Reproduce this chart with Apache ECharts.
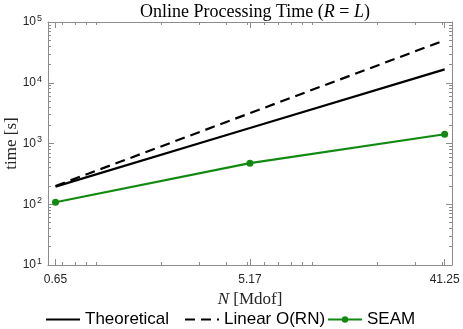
<!DOCTYPE html>
<html>
<head>
<meta charset="utf-8">
<script src="https://cdn.jsdelivr.net/npm/echarts@6/dist/echarts.min.js"></script>
<style>
html, body { margin: 0; padding: 0; background: #fff; }
#chart { width: 463px; height: 329px; }
</style>
</head>
<body>
<div id="chart"></div>
<script>
// data
var nMdof = [0.65, 5.17, 41.25];
var theoretical = [195, 1800, 16600];
var linearORN = [200, 3160, 50000];
var seam = [108, 475, 1420];

var xTicks = [0.65, 5.17, 41.25];
var xTickLabels = ['0.65', '5.17', '41.25'];
var xMinorTicks = [0.7, 0.8, 0.9, 1, 2, 3, 4, 5, 6, 7, 8, 9, 10, 20, 30, 40];
var yTicks = [10, 100, 1000, 10000, 100000];
var yTickExp = ['1', '2', '3', '4', '5'];
var yMinorTicks = [];
for (var k = 1; k < 5; k++) {
    for (var m = 2; m < 10; m++) {
        yMinorTicks.push(m * Math.pow(10, k));
    }
}

var dom = document.getElementById('chart');
var myChart = echarts.init(dom);

var axisGrey = '#8c8c8c';
var serif = 'Liberation Serif';
var sans = 'Liberation Sans';

function pairs(ys) {
    return nMdof.map(function (x, i) { return [x, ys[i]]; });
}

function nearestIdx(arr, v) {
    var best = 0;
    for (var i = 1; i < arr.length; i++) {
        if (Math.abs(Math.log(arr[i]) - Math.log(v)) < Math.abs(Math.log(arr[best]) - Math.log(v))) best = i;
    }
    return best;
}

function xAx(pos, vals, len, showLabel, showLine) {
    return {
        type: 'log', logBase: 10, min: 0.6, max: 44.6, position: pos,
        axisLine: { show: showLine, lineStyle: { color: axisGrey, width: 1 } },
        axisTick: { show: true, inside: true, length: len, customValues: vals, lineStyle: { color: axisGrey } },
        axisLabel: showLabel ? {
            customValues: xTicks, margin: 9, color: '#262626', fontFamily: sans, fontSize: 12,
            formatter: function (v) { return xTickLabels[nearestIdx(xTicks, v)]; }
        } : { show: false },
        splitLine: { show: false }, minorTick: { show: false }
    };
}

function yAx(pos, vals, len, showLabel, showLine) {
    return {
        type: 'log', logBase: 10, min: 10, max: 100000, position: pos,
        axisLine: { show: showLine, lineStyle: { color: axisGrey, width: 1 } },
        axisTick: { show: true, inside: true, length: len, customValues: vals, lineStyle: { color: axisGrey } },
        axisLabel: showLabel ? {
            customValues: yTicks, margin: 6, color: '#262626', fontFamily: sans,
            formatter: function (v) { return '{b|10}{s|' + yTickExp[nearestIdx(yTicks, v)] + '}'; },
            rich: {
                b: { fontSize: 12, fontFamily: sans, color: '#262626' },
                s: { fontSize: 9, fontFamily: sans, color: '#262626', verticalAlign: 'top', padding: [0, 0, 7, 1] }
            }
        } : { show: false },
        splitLine: { show: false }, minorTick: { show: false }
    };
}

var xMain = xAx('bottom', xTicks, 6, true, true);
xMain.name = '{i|N} [Mdof]';
xMain.nameLocation = 'middle';
xMain.nameGap = 26;
xMain.nameMoveOverlap = false;
xMain.nameTextStyle = {
    fontFamily: serif, fontSize: 17, color: '#262626',
    rich: {
        i: { fontFamily: serif, fontStyle: 'italic', fontSize: 17, color: '#262626' }
    }
};

var yMain = yAx('left', yTicks, 6, true, true);
yMain.name = 'time [s]';
yMain.nameLocation = 'middle';
yMain.nameGap = 28;
yMain.nameMoveOverlap = false;
yMain.nameTextStyle = { fontFamily: serif, fontSize: 17, color: '#262626' };

function legendAt(name, left, hideMarker) {
    return {
        data: [name], left: left, top: 311, itemWidth: 34, itemHeight: 8, itemGap: 0,
        padding: 0,
        itemStyle: hideMarker ? { opacity: 0 } : {},
        textStyle: { fontFamily: sans, fontSize: 17, color: '#000' }
    };
}

option = {
    animation: false,
    backgroundColor: '#fff',
    title: {
        text: '{n|Online Processing Time (}{i|R}{n| = }{i|L}{n|)}',
        left: 250, top: -2, textAlign: 'center',
        textStyle: {
            fontWeight: 'normal',
            rich: {
                n: { fontFamily: serif, fontSize: 18, fontWeight: 'normal', color: '#000' },
                i: { fontFamily: serif, fontSize: 18, fontWeight: 'normal', fontStyle: 'italic', color: '#000' }
            }
        }
    },
    legend: [
        legendAt('Theoretical', 45, true),
        legendAt('Linear O(RN)', 184, true),
        legendAt('SEAM', 327, false)
    ],
    grid: { left: 48, right: 11, top: 22, bottom: 64, outerBoundsMode: 'none', containLabel: false },
    xAxis: [
        xMain,
        xAx('bottom', xMinorTicks, 3, false, false),
        xAx('top', xTicks, 6, false, true),
        xAx('top', xMinorTicks, 3, false, false)
    ],
    yAxis: [
        yMain,
        yAx('left', yMinorTicks, 3, false, false),
        yAx('right', yTicks, 6, false, true),
        yAx('right', yMinorTicks, 3, false, false)
    ],
    series: [
        {
            name: 'Theoretical', type: 'line', data: pairs(theoretical),
            showSymbol: false, symbol: 'none', color: '#000',
            lineStyle: { color: '#000', width: 2.2 }
        },
        {
            name: 'Linear O(RN)', type: 'line', data: pairs(linearORN),
            showSymbol: false, symbol: 'none', color: '#000',
            lineStyle: { color: '#000', width: 2.2, type: [10, 6] }
        },
        {
            name: 'SEAM', type: 'line', data: pairs(seam),
            symbol: 'circle', symbolSize: 7, color: '#128a12',
            itemStyle: { color: '#128a12' },
            lineStyle: { color: '#128a12', width: 2.2 }
        }
    ]
};

myChart.setOption(option);
</script>
</body>
</html>
